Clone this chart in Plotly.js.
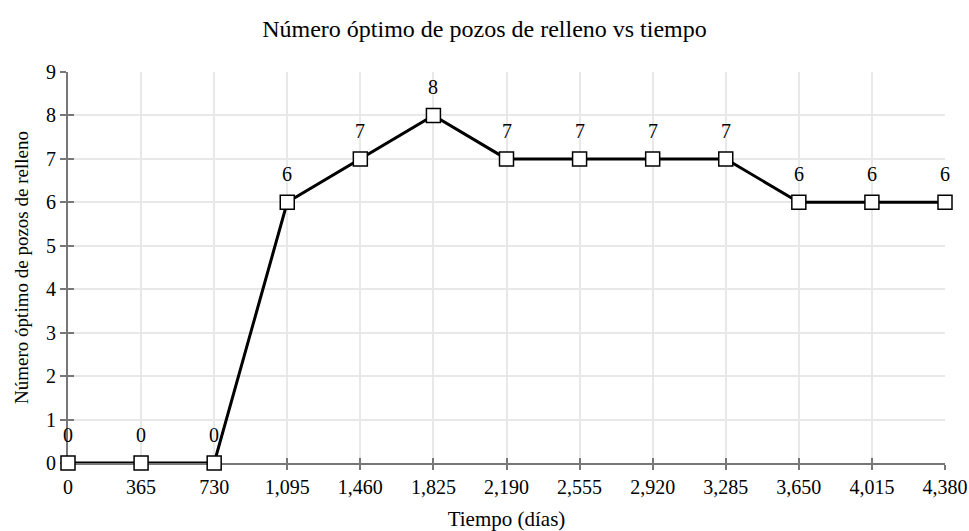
<!DOCTYPE html>
<html>
<head>
<meta charset="utf-8">
<script src="https://cdn.plot.ly/plotly-3.0.1.min.js"></script>
<style>html,body{margin:0;padding:0;background:#fff;}#chart{width:969px;height:531px;}</style>
</head>
<body>
<div id="chart"></div>
<script>
const dias = [0, 365, 730, 1095, 1460, 1825, 2190, 2555, 2920, 3285, 3650, 4015, 4380];
const pozos = [0, 0, 0, 6, 7, 8, 7, 7, 7, 7, 6, 6, 6];
const yTicks = [0, 1, 2, 3, 4, 5, 6, 7, 8, 9];

const font = {family: '"Liberation Serif", "Times New Roman", serif', color: '#000'};
const f = s => Object.assign({}, font, {size: s});

const labels = dias.map((d, i) => ({
  x: d, y: pozos[i], xref: 'x2', yref: 'y2',
  text: String(pozos[i]), showarrow: false,
  xanchor: 'center', yanchor: 'middle', yshift: 28,
  font: f(20)
}));

Plotly.newPlot('chart', [{
  x: [dias[0]], y: [pozos[0]], xaxis: 'x', yaxis: 'y',
  type: 'scatter', mode: 'markers', marker: {opacity: 0}, hoverinfo: 'skip', showlegend: false
}, {
  x: dias,
  y: pozos,
  xaxis: 'x2', yaxis: 'y2',
  type: 'scatter',
  mode: 'lines+markers',
  line: {color: '#000', width: 3},
  marker: {symbol: 'square', size: 14, color: '#fff', line: {color: '#000', width: 1.5}},
  cliponaxis: false,
  hoverinfo: 'x+y'
}], {
  width: 969, height: 531,
  margin: {l: 68, r: 24, t: 72, b: 68},
  paper_bgcolor: '#fff', plot_bgcolor: '#fff',
  font: f(20),
  showlegend: false,
  annotations: labels,
  title: {text: 'Número óptimo de pozos de relleno vs tiempo', font: f(24), x: 0.5, xanchor: 'center', y: 0.947, yanchor: 'middle'},
  xaxis: {
    range: [0, 4380],
    tickvals: dias,
    ticktext: dias.map(d => d.toLocaleString('en-US')),
    showgrid: true, gridcolor: '#e8e8e8', gridwidth: 1.5,
    showline: true, linecolor: '#777', linewidth: 2,
    zeroline: false, ticks: 'outside', ticklen: 5, tickcolor: '#777', tickwidth: 2,
    tickfont: f(20), layer: 'below traces',
    title: {text: 'Tiempo (días)', font: f(21), standoff: 15}
  },
  yaxis: {
    range: [0, 9],
    tickvals: yTicks,
    showgrid: true, gridcolor: '#e8e8e8', gridwidth: 1.5,
    showline: true, linecolor: '#777', linewidth: 2,
    zeroline: false, ticks: 'outside', ticklen: 6, tickcolor: '#777', tickwidth: 2,
    tickfont: f(20), layer: 'below traces',
    title: {text: 'Número óptimo de pozos de relleno', font: f(19), standoff: 12}
  },
  xaxis2: {
    overlaying: 'x', anchor: 'y2', side: 'bottom', range: [0, 4380], tickvals: dias,
    ticks: 'inside', ticklen: 5, tickcolor: '#777', tickwidth: 2, layer: 'below traces',
    showticklabels: false, showgrid: false, showline: false, zeroline: false
  },
  yaxis2: {
    overlaying: 'y', anchor: 'x2', side: 'left', range: [0, 9], tickvals: yTicks,
    ticks: 'inside', ticklen: 6, tickcolor: '#777', tickwidth: 2, layer: 'below traces',
    showticklabels: false, showgrid: false, showline: false, zeroline: false
  }
}, {displayModeBar: false});
</script>
</body>
</html>
